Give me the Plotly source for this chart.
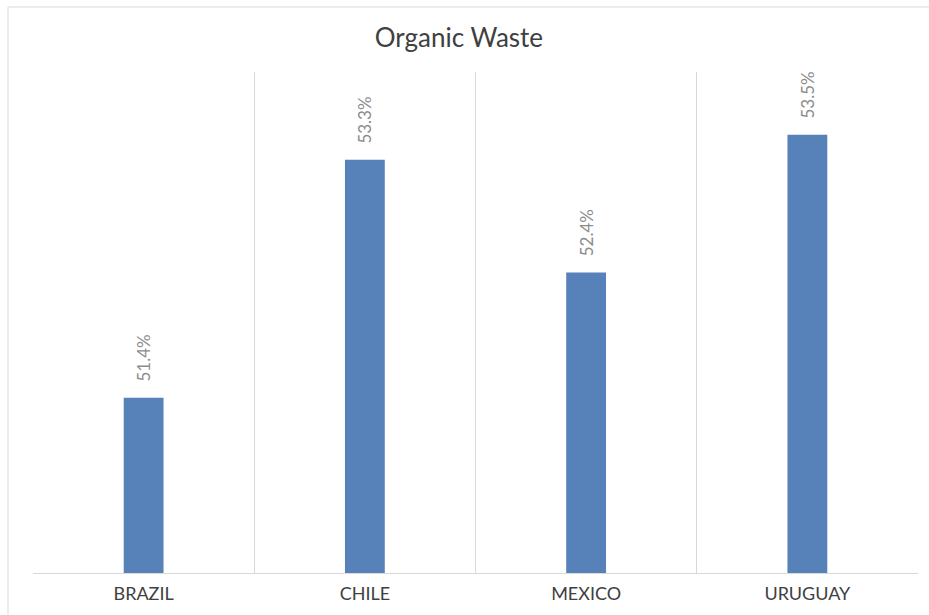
import plotly.graph_objects as go

categories = ["BRAZIL", "CHILE", "MEXICO", "URUGUAY"]
values = [51.4, 53.3, 52.4, 53.5]
title_text = "Organic Waste"

W, H = 929, 615
ml, mr, mt, mb = 33, 11, 72, 42
pw = W - ml - mr
ph = H - mt - mb

fig = go.Figure(
    go.Bar(
        x=categories,
        y=values,
        width=0.18,
        marker=dict(color="#5681b9", line=dict(width=0)),
        texttemplate="\u00a0\u00a0\u00a0%{y:.1f}%",
        textposition="outside",
        textangle=-90,
        constraintext="none",
        textfont=dict(family="Lato, 'Open Sans', sans-serif", size=17, color="#8c8c8c"),
        cliponaxis=False,
    )
)

# chart border (light gray frame, partly off-screen like the reference)
fig.add_shape(
    type="rect", xref="paper", yref="paper",
    x0=(8 - ml) / pw, x1=(W + 10 - ml) / pw,
    y0=-(H + 10 - mt - ph) / ph, y1=1 + (mt - 7) / ph,
    line=dict(color="#d9d9d9", width=1), fillcolor="rgba(0,0,0,0)", layer="below",
)

fig.update_layout(
    width=W, height=H,
    margin=dict(l=ml, r=mr, t=mt, b=mb),
    paper_bgcolor="white", plot_bgcolor="white",
    showlegend=False,
    title=dict(
        text=title_text, x=0.494, xanchor="center", y=1 - 38 / H, yanchor="middle",
        font=dict(family="Lato, 'Open Sans', sans-serif", size=26, color="#404040"),
    ),
    xaxis=dict(
        type="category",
        range=[-0.5, 3.5],
        tickson="boundaries",
        showgrid=True, gridcolor="#d9d9d9", gridwidth=1,
        showline=True, linecolor="#d9d9d9", linewidth=1,
        ticks="", ticklen=0,
        ticklabelstandoff=4,
        tickfont=dict(family="Lato, 'Open Sans', sans-serif", size=18, color="#404040"),
        fixedrange=True,
    ),
    yaxis=dict(
        range=[50, 54],
        showgrid=False, showticklabels=False, zeroline=False, showline=False,
        ticks="", fixedrange=True,
    ),
    bargap=0.82,
)

fig.write_html("out.html")
